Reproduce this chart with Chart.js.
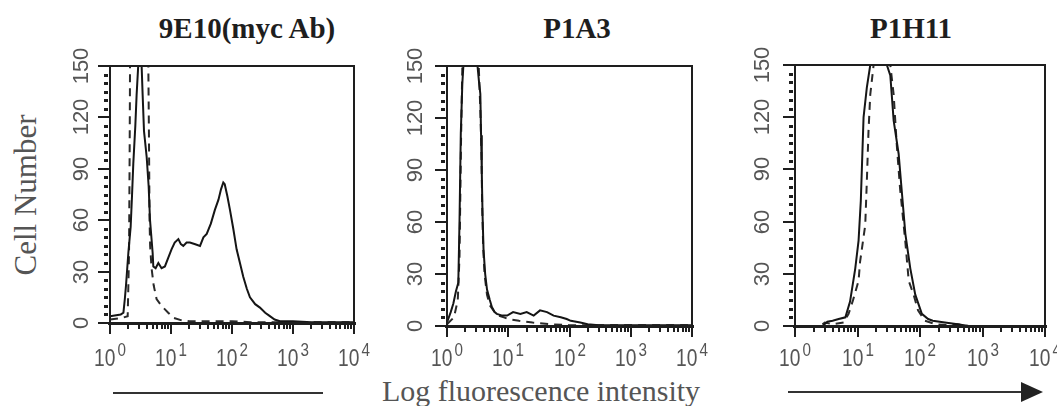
<!DOCTYPE html>
<html>
<head>
<meta charset="utf-8">
<title>Log fluorescence histograms</title>
<script src="https://cdn.jsdelivr.net/npm/chart.js@4.4.0/dist/chart.umd.min.js"></script>
<style>
	body { margin: 0; background: #fff; width: 1057px; height: 406px; overflow: hidden; position: relative; }
	canvas { position: absolute; top: 0; }
	.title { position: absolute; top: 14px; font: bold 29px "Liberation Serif", serif; line-height: 29px; color: #1e1e1e; transform: translateX(-50%); white-space: nowrap; }
	.ylab { position: absolute; left: 25px; top: 195px; font: 31px "Liberation Serif", serif; line-height: 31px; color: #555; white-space: nowrap; transform: translate(-50%, -50%) rotate(-90deg); }
	.xlab { position: absolute; left: 541px; top: 376px; font: 30px "Liberation Serif", serif; line-height: 30px; color: #555; white-space: nowrap; transform: translateX(-50%); }
	.rule { position: absolute; left: 113px; top: 392px; width: 210px; height: 2px; background: #333; }
	svg { position: absolute; left: 785px; top: 380px; }
</style>
</head>
<body>
	<div class="title" style="left:247px">9E10(myc Ab)</div>
	<div class="title" style="left:577px">P1A3</div>
	<div class="title" style="left:911px">P1H11</div>
	<div class="ylab">Cell Number</div>
	<div class="xlab">Log fluorescence intensity</div>
	<div class="rule"></div>
	<svg width="262" height="24"><line x1="3" y1="12" x2="240" y2="12" stroke="#333" stroke-width="2"/><polygon points="236,2 258,12 236,22" fill="#222"/></svg>

	<canvas id="c1" width="340" height="406" style="left:40px"></canvas>
	<canvas id="c2" width="330" height="406" style="left:385px"></canvas>
	<canvas id="c3" width="327" height="406" style="left:730px"></canvas>

<script>
// axis ticks
const yTicks = [0, 30, 60, 90, 120, 150];
const xDecades = [1, 10, 100, 1000, 10000];
const xExponents = ['0', '1', '2', '3', '4'];

// 9E10 (myc Ab)
const p1SolidX = [1, 1.5, 1.66, 1.75, 1.83, 2.0, 2.18, 2.3, 2.41, 2.6, 2.73, 2.9, 3.3, 3.43, 3.61, 3.99, 4.3, 4.53, 5.0, 5.13, 5.6, 6.2, 7.0, 7.95, 9, 10.2, 11.5, 13.2, 14.5, 15.9, 18, 20.4, 25, 29.9, 34, 38.5, 45, 52.4, 60, 66, 72, 76, 84, 92.6, 105, 119, 135, 153, 175, 197, 240, 287, 350, 418, 500, 611, 1000, 2000, 10000];
const p1SolidY = [4, 5, 6, 14, 22, 41, 56, 75, 93, 115, 133, 150, 150, 133, 112, 97, 80, 60, 41, 33, 32, 35, 32, 33, 38, 43, 47, 49, 46, 45, 47, 47, 46, 45, 50, 52, 58, 66, 72, 78, 82, 81, 74, 66, 55, 43, 35, 27, 20, 15, 11, 9, 6, 4, 2, 1, 1, 0.5, 0.5];
const p1DashX = [1, 1.6, 1.95, 2.05, 2.1, 2.13, 4.25, 4.35, 4.45, 4.55, 4.8, 5.2, 5.8, 7, 9, 11, 15, 20, 50, 100, 200, 10000];
const p1DashY = [2, 3, 4, 40, 100, 150, 150, 110, 60, 45, 32, 22, 14, 10, 6, 3, 1.5, 1, 1, 1, 0.5, 0.5];

// P1A3
const p2SolidX = [1, 1.15, 1.27, 1.4, 1.53, 1.6, 1.68, 1.78, 1.85, 3.15, 3.35, 3.5, 3.6, 3.7, 3.8, 3.95, 4.2, 4.5, 5, 5.4, 6, 6.5, 8, 9.6, 12, 15.8, 20, 26, 33, 43, 55, 72, 90, 105, 150, 198, 300, 10000];
const p2SolidY = [2, 8, 13, 20, 25, 60, 111, 140, 150, 150, 140, 134, 110, 88, 65, 44, 30, 21, 15, 11, 8, 7, 6, 6, 8, 7, 8, 6, 9, 8, 6, 5, 4, 3, 2, 1, 0.5, 0.5];
const p2DashX = [1, 1.3, 1.5, 1.6, 1.7, 1.78, 3.3, 3.5, 3.65, 3.75, 3.9, 4.1, 4.5, 5, 6, 7, 8.5, 10, 15, 25, 50, 100, 10000];
const p2DashY = [1, 5, 15, 40, 110, 150, 150, 125, 100, 70, 45, 30, 18, 12, 8, 6, 5, 4, 3, 2, 1, 0.5, 0.5];

// P1H11
const p3SolidX = [1, 2.75, 3.3, 4, 5, 6.4, 7.6, 9.2, 10.4, 11.3, 12.5, 14.1, 16, 29.5, 33.5, 37.9, 45.5, 51.5, 58.3, 70, 84, 107, 135, 160, 250, 400, 600, 10000];
const p3SolidY = [0, 0, 2.5, 3, 4, 5, 14, 33, 49, 72, 120, 137, 150, 150, 144, 118, 99, 76, 53, 33, 18, 7, 4, 3, 2, 1, 0, 0];
const p3DashX = [1, 2.5, 3, 4, 6, 7.2, 8.5, 10.4, 11, 13.3, 14.1, 15, 16, 18.1, 33.5, 37.9, 42.7, 48, 58, 66, 79, 93, 120, 180, 300, 400, 600, 10000];
const p3DashY = [0, 0, 2, 1, 2, 7, 15, 26, 37, 58, 83, 112, 133, 150, 150, 133, 103, 79, 49, 26, 18, 9, 3, 1, 0.5, 1, 0, 0];

function pts(xs, ys) {
	return xs.map((v, i) => ({ x: v, y: ys[i] }));
}

// box, ticks and tick labels drawn from the chart scales
const flowAxes = {
	id: 'flowAxes',
	afterDraw(chart, args, opts) {
		const ctx = chart.ctx, a = chart.chartArea, x = chart.scales.x, y = chart.scales.y;
		ctx.save();
		ctx.setLineDash([]);
		ctx.fillStyle = '#1e1e1e';
		// frame
		ctx.fillRect(a.left - 1, a.top - 1, a.right - a.left + 2, 2);
		ctx.fillRect(a.right - 1, a.top - 1, 2, a.bottom - a.top + 2);
		ctx.fillRect(a.left - 1, a.top - 1, 2, a.bottom - a.top + 2);
		ctx.fillRect(a.left - 2, a.bottom - 1, a.right - a.left + 4, 3);

		for (let i = 0; i < yTicks.length; i++) {
			const py = Math.round(y.getPixelForValue(yTicks[i]));
			ctx.fillStyle = '#1e1e1e';
			ctx.fillRect(a.left - 12, py - 1, 12, 2);
			if (i < yTicks.length - 1) {
				for (let k = 1; k < 6; k++) {
					const my = Math.round(y.getPixelForValue(yTicks[i] + k * (yTicks[i + 1] - yTicks[i]) / 6));
					ctx.fillRect(a.left - 6, my - 1, 4, 3);
				}
			}
			ctx.save();
			ctx.translate(a.left - opts.labelGap, py);
			ctx.rotate(-Math.PI / 2);
			ctx.fillStyle = '#555';
			ctx.font = '22px "Liberation Sans", Arial, sans-serif';
			ctx.textAlign = 'center';
			ctx.textBaseline = 'middle';
			ctx.fillText(String(yTicks[i]), 0, 0);
			ctx.restore();
		}

		for (let i = 0; i < xDecades.length; i++) {
			const px = Math.round(x.getPixelForValue(xDecades[i]));
			ctx.fillStyle = '#1e1e1e';
			ctx.fillRect(px - 1, a.bottom, 2, 11);
			if (i < xDecades.length - 1) {
				for (let m = 2; m < 10; m++) {
					const mx = Math.round(x.getPixelForValue(xDecades[i] * m));
					ctx.fillRect(mx - 1, a.bottom, 2, 6);
				}
			}
			ctx.fillStyle = '#555';
			ctx.textAlign = 'left';
			ctx.textBaseline = 'alphabetic';
			ctx.font = '24px "Liberation Sans", Arial, sans-serif';
			const wb = ctx.measureText('10').width * 0.8;
			ctx.font = '19px "Liberation Sans", Arial, sans-serif';
			const we = ctx.measureText(xExponents[i]).width * 0.8;
			const start = px - (wb + 2 + we) / 2;
			ctx.save();
			ctx.translate(start, opts.baseline);
			ctx.scale(0.8, 1);
			ctx.font = '24px "Liberation Sans", Arial, sans-serif';
			ctx.fillText('10', 0, 0);
			ctx.restore();
			ctx.save();
			ctx.translate(start + wb + 2, opts.baseline - 10);
			ctx.scale(0.8, 1);
			ctx.font = '19px "Liberation Sans", Arial, sans-serif';
			ctx.fillText(xExponents[i], 0, 0);
			ctx.restore();
		}
		ctx.restore();
	}
};

function makeChart(id, solid, dashed, padding, labelGap) {
	return new Chart(document.getElementById(id).getContext('2d'), {
		type: 'line',
		data: {
			datasets: [{
				data: solid,
				borderColor: '#151515',
				borderWidth: 2,
				pointRadius: 0,
				fill: false,
				tension: 0
			}, {
				data: dashed,
				borderColor: '#2a2a2a',
				borderWidth: 2,
				borderDash: [8, 6],
				pointRadius: 0,
				fill: false,
				tension: 0
			}]
		},
		options: {
			responsive: false,
			animation: false,
			devicePixelRatio: 1,
			layout: { padding: padding },
			plugins: {
				legend: { display: false },
				tooltip: { enabled: false },
				flowAxes: { labelGap: labelGap, baseline: 366 }
			},
			scales: {
				x: { type: 'logarithmic', min: 1, max: 10000, display: false },
				y: { type: 'linear', min: 0, max: 150, display: false }
			}
		},
		plugins: [flowAxes]
	});
}

makeChart('c1', pts(p1SolidX, p1SolidY), pts(p1DashX, p1DashY), { left: 70, right: 26, top: 66, bottom: 83 }, 28);
makeChart('c2', pts(p2SolidX, p2SolidY), pts(p2DashX, p2DashY), { left: 62, right: 23, top: 66, bottom: 80 }, 31);
makeChart('c3', pts(p3SolidX, p3SolidY), pts(p3DashX, p3DashY), { left: 65, right: 12, top: 65, bottom: 80 }, 32);
</script>
</body>
</html>
